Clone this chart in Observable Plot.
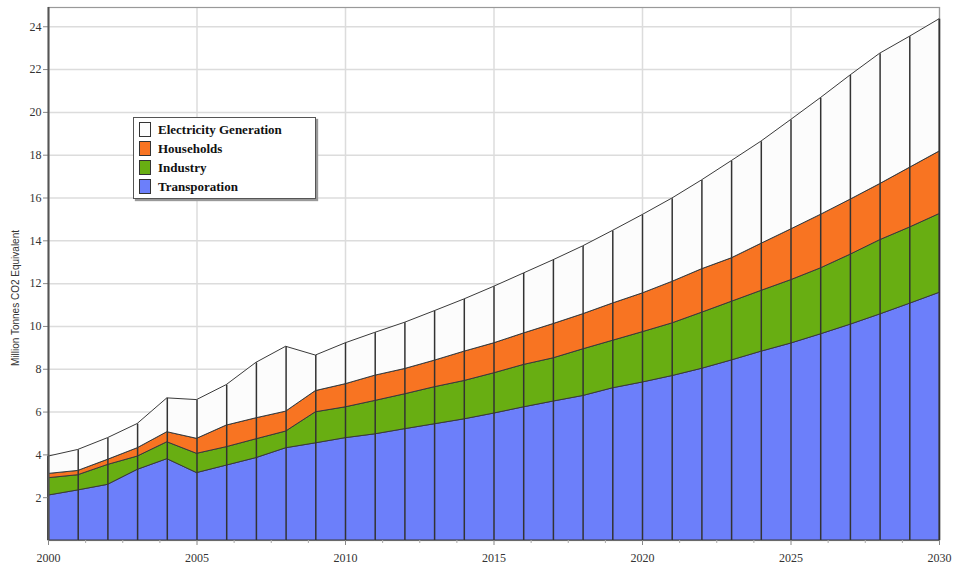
<!DOCTYPE html>
<html><head><meta charset="utf-8">
<script src="https://cdn.jsdelivr.net/npm/d3@7"></script>
<script src="https://cdn.jsdelivr.net/npm/@observablehq/plot@0.6"></script>
<style>
body{margin:0;background:#fff;}
#wrap{position:relative;width:954px;height:569px;}
#legend{position:absolute;left:133px;top:117px;width:176px;height:78px;border:1.5px solid #555;background:#fff;box-shadow:2px 2px 1px #999;padding:2px 0 0 5px;box-sizing:content-box;}
.item{display:flex;align-items:center;height:19px;font:bold 13px "Liberation Serif",serif;color:#111;}
.sw{width:10px;height:13px;border:1px solid #333;margin-right:7px;box-sizing:content-box;}
</style></head><body><div id="wrap"></div>
<script>
const years = [2000,2001,2002,2003,2004,2005,2006,2007,2008,2009,2010,2011,2012,2013,2014,2015,2016,2017,2018,2019,2020,2021,2022,2023,2024,2025,2026,2027,2028,2029,2030];
const transportation = [2.10,2.34,2.60,3.30,3.80,3.15,3.50,3.85,4.31,4.54,4.78,4.96,5.20,5.43,5.66,5.93,6.22,6.49,6.75,7.11,7.38,7.68,8.02,8.41,8.82,9.20,9.63,10.08,10.56,11.06,11.57];
const industry = [0.81,0.71,0.93,0.62,0.79,0.90,0.86,0.88,0.78,1.45,1.44,1.56,1.63,1.73,1.79,1.88,1.98,2.02,2.18,2.22,2.35,2.46,2.62,2.74,2.84,2.96,3.08,3.27,3.47,3.56,3.68];
const households = [0.20,0.20,0.24,0.39,0.47,0.70,1.01,0.98,0.93,0.99,1.08,1.18,1.18,1.24,1.37,1.40,1.47,1.60,1.64,1.74,1.81,1.94,2.03,2.03,2.20,2.37,2.50,2.57,2.62,2.79,2.92];
const electricity = [0.81,0.98,1.01,1.13,1.58,1.81,1.89,2.59,3.03,1.66,1.91,2.00,2.16,2.31,2.44,2.64,2.80,2.98,3.17,3.39,3.66,3.89,4.15,4.54,4.77,5.11,5.45,5.80,6.09,6.12,6.18];
const seriesNames = ["Transporation","Industry","Households","Electricity Generation"];
const seriesColors = ["#6c7ffa","#68ae12","#f87422","#fcfcfc"];
const legendOrder = ["Electricity Generation","Households","Industry","Transporation"];
const yTicks = [2,4,6,8,10,12,14,16,18,20,22,24];
const xTicks = [2000,2005,2010,2015,2020,2025,2030];
const xMinorTicks = [2001.25,2002.5,2003.75,2006.25,2007.5,2008.75,2011.25,2012.5,2013.75,2016.25,2017.5,2018.75,2021.25,2022.5,2023.75,2026.25,2027.5,2028.75];
const yLabel = "Million Tonnes CO2 Equivalent";

const valuesBySeries = [transportation, industry, households, electricity];
const long = [];
seriesNames.forEach((s, i) => years.forEach((y, j) => long.push({year: y, series: s, value: valuesBySeries[i][j]})));
const totals = years.map((y, j) => ({year: y, total: valuesBySeries.reduce((a, arr) => a + arr[j], 0)}));

const chart = Plot.plot({
  width: 954, height: 569,
  marginLeft: 48, marginRight: 15, marginTop: 7, marginBottom: 29,
  style: {fontFamily: "'Liberation Serif', serif", fontSize: "12px", color: "#333", background: "#fff"},
  x: {type: "linear", domain: [2000, 2030]},
  y: {type: "linear", domain: [0, 24.9]},
  color: {domain: seriesNames, range: seriesColors},
  marks: [
    Plot.gridY(yTicks, {stroke: "#dcdcdc", strokeOpacity: 1, strokeWidth: 1.5}),
    Plot.gridX(xTicks, {stroke: "#dcdcdc", strokeOpacity: 1, strokeWidth: 1.5}),
    Plot.frame({stroke: "#999", strokeWidth: 1.2}),
    Plot.areaY(long, {x: "year", y: "value", z: "series", fill: "series", order: seriesNames, stroke: "#3a3a3a", strokeWidth: 1, strokeLinejoin: "round"}),
    Plot.ruleX(totals, {x: "year", y1: 0, y2: "total", stroke: "#333", strokeWidth: 1.5}),
    Plot.axisY(yTicks, {tickSize: 5, tickPadding: 2, label: null, stroke: "#888", fill: "#333", fontSize: 12}),
    Plot.axisX(xTicks, {tickSize: 5, tickPadding: 8, label: null, tickFormat: d => String(d), stroke: "#888", fill: "#333", fontSize: 12}),
    Plot.axisX(xMinorTicks, {tickSize: 3, text: null, label: null, stroke: "#aaa"}),
    Plot.ruleX([2000], {stroke: "#555", strokeWidth: 2}),
    Plot.text([yLabel], {text: d => d, frameAnchor: "left", textAnchor: "middle", rotate: -90, dx: -33, dy: 24, fontFamily: "'Liberation Sans', sans-serif", fontSize: 10, fill: "#333"})
  ]
});
const wrap = document.getElementById("wrap");
wrap.appendChild(chart);

const legend = document.createElement("div");
legend.id = "legend";
legendOrder.forEach(name => {
  const it = document.createElement("div");
  it.className = "item";
  const sw = document.createElement("span");
  sw.className = "sw";
  sw.style.background = seriesColors[seriesNames.indexOf(name)];
  it.appendChild(sw);
  it.appendChild(document.createTextNode(name));
  legend.appendChild(it);
});
wrap.appendChild(legend);
</script></body></html>
